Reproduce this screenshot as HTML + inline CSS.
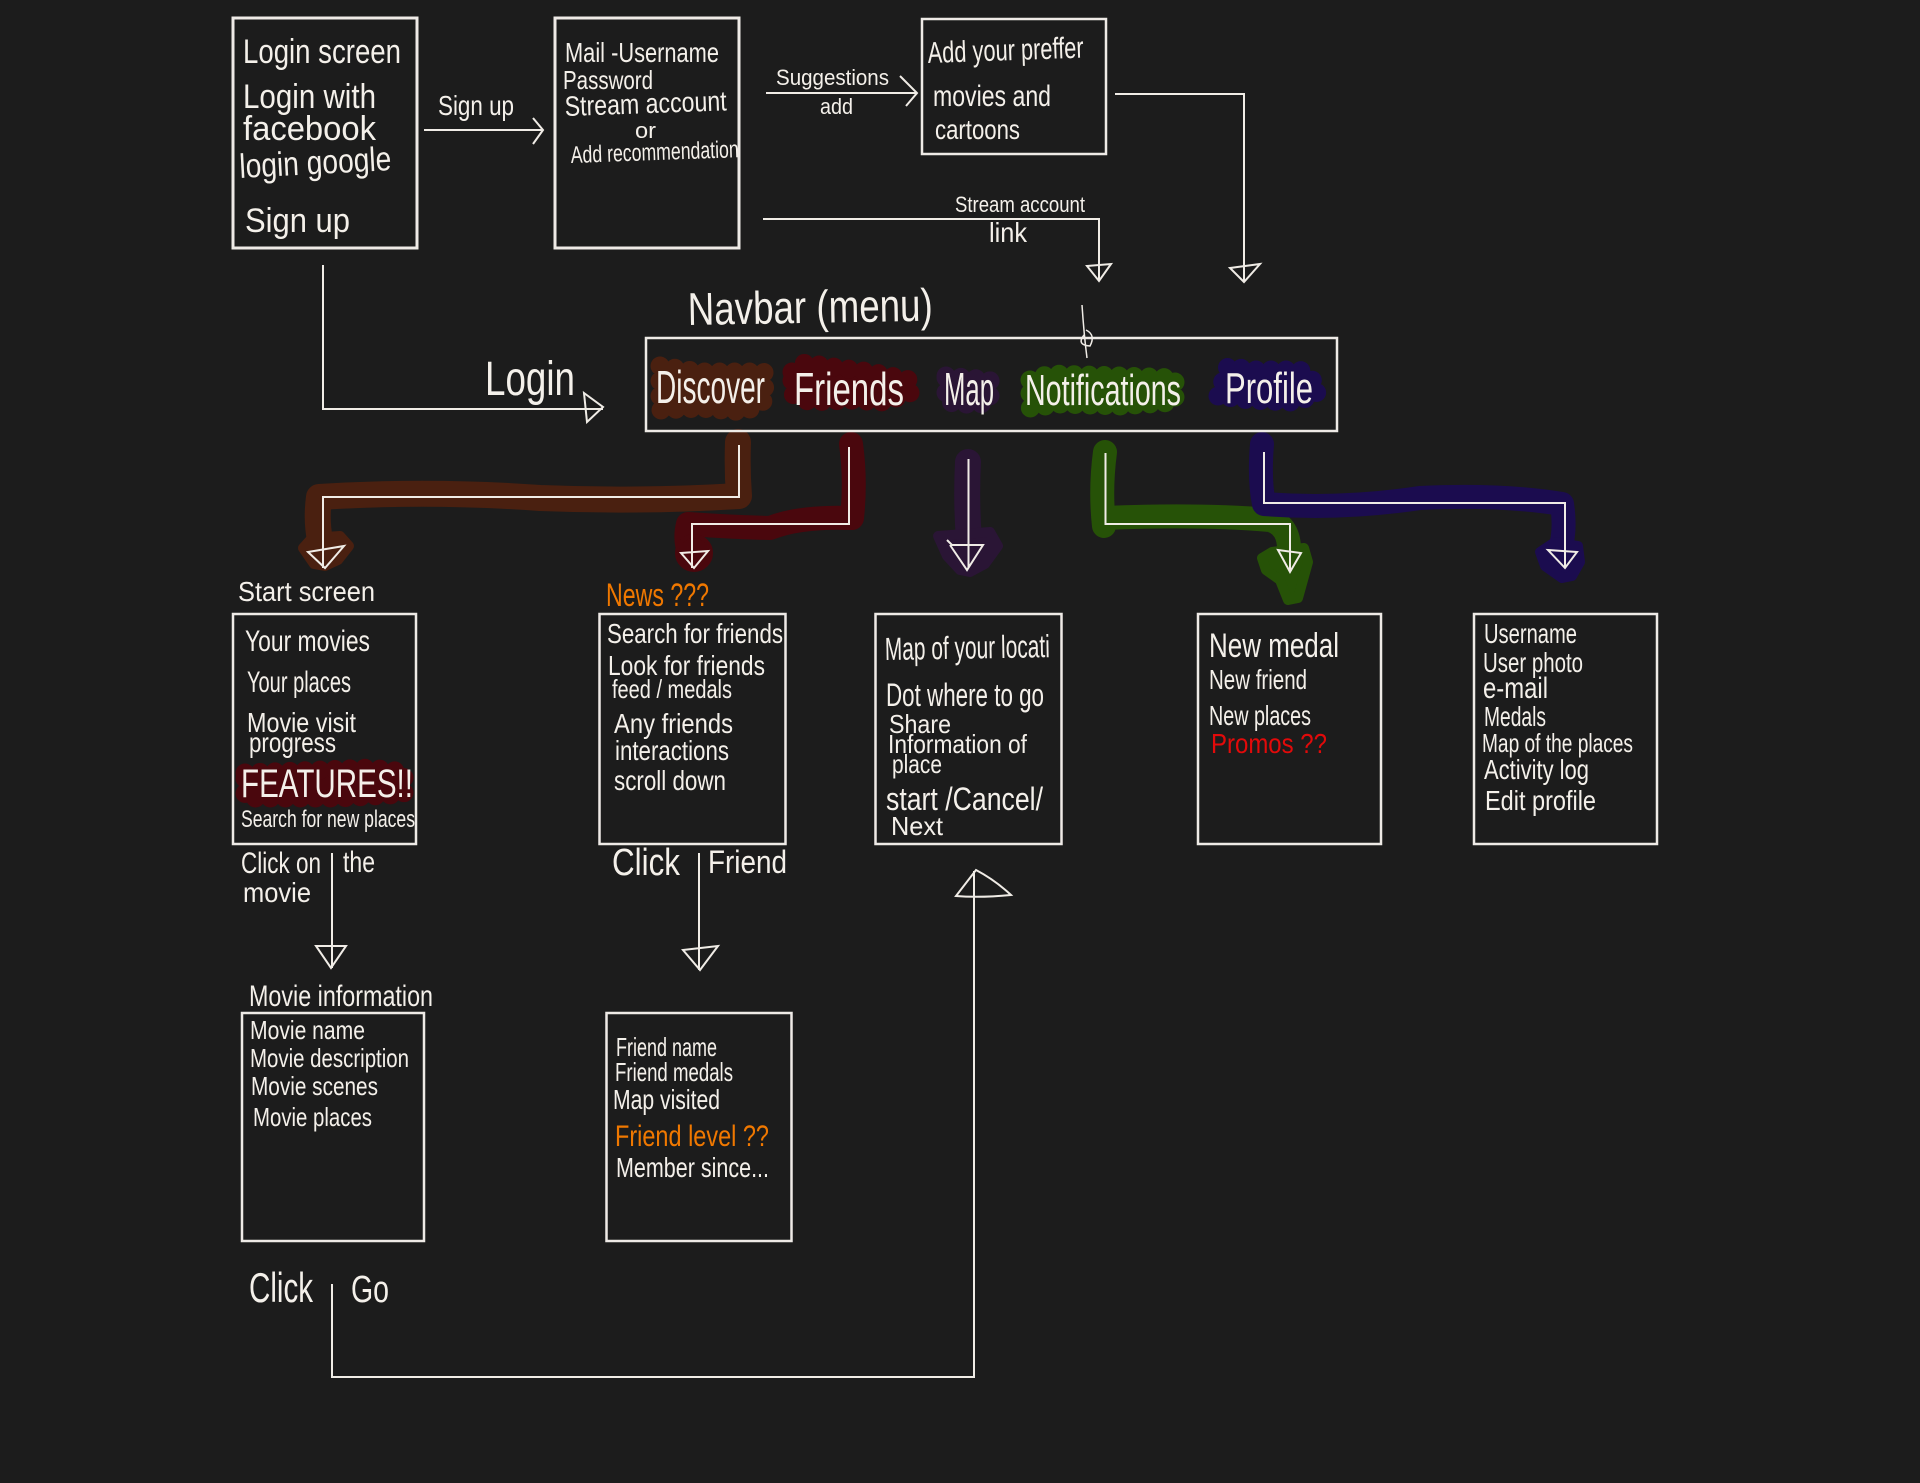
<!DOCTYPE html>
<html><head><meta charset="utf-8"><title>Flow sketch</title>
<style>
html,body{margin:0;padding:0;background:#1c1c1c;width:1920px;height:1483px;overflow:hidden}
svg{display:block}
text{font-family:"Liberation Sans",sans-serif;fill:#f4f0ea}
.l{fill:none;stroke:#f0ece6;stroke-width:2;stroke-linejoin:miter}
.b{fill:none;stroke:#eeeae6;stroke-width:3}
.o{fill:#f07800}.r{fill:#e20a0a}
.s{stroke-width:19;stroke-dasharray:0 15}
</style></head><body>
<svg width="1920" height="1483" viewBox="0 0 1920 1483" xmlns="http://www.w3.org/2000/svg">
<rect width="1920" height="1483" fill="#1c1c1c"/>

<!-- colour highlights -->
<g fill="none" stroke-linecap="round" stroke-linejoin="round">
 <g stroke="#4a2010" fill="#4a2010">
  <path d="M738 442 Q737 470 739 496 Q640 502 540 498 Q430 490 319 497 Q316 520 320 540" stroke-width="26" fill="none"/>
  <path d="M303 548 L312 538 L340 536 L349 546 L338 560 L325 566 L314 564Z" stroke-width="10"/>
  <path class="s" d="M660 366 L700 372 L764 372 L765 400 L745 412 L700 408 L660 410Z"/>
 </g>
 <g stroke="#4a070d" fill="#4a070d">
  <path d="M851 444 Q856 480 852 518 Q800 516 770 528 Q730 527 688 524 Q684 540 690 555" stroke-width="24" fill="none"/>
  <circle cx="694" cy="553" r="17" stroke-width="4"/>
  <path class="s" d="M792 372 L805 363 L840 368 L870 372 L910 380 L910 393 L885 402 L850 400 L810 402 L792 394Z"/>
  <path class="s" d="M245 773 L300 771 L370 768 L404 772 L404 794 L340 798 L290 798 L245 798Z"/>
 </g>
 <g stroke="#2a1535" fill="#2a1535">
  <path d="M968 462 Q966 500 969 540" stroke-width="26" fill="none"/>
  <path d="M938 536 L990 532 L998 546 L985 564 L970 572 L960 570 L947 556Z" stroke-width="10"/>
  <path class="s" d="M946 376 L990 380 L990 402 L975 405 L946 402Z"/>
 </g>
 <g stroke="#265207" fill="#265207">
  <path d="M1105 452 Q1100 490 1104 526 M1104 518 Q1200 514 1270 520 Q1290 526 1289 552" stroke-width="24" fill="none"/>
  <path d="M1262 558 L1272 552 L1304 548 L1308 562 L1298 598 L1288 600 L1280 580 L1266 570Z" stroke-width="10"/>
  <path class="s" d="M1030 380 L1050 374 L1120 376 L1175 378 L1175 402 L1120 406 L1060 404 L1030 408Z"/>
 </g>
 <g stroke="#1b0c4f" fill="#1b0c4f">
  <path d="M1262 444 Q1259 480 1264 504 Q1340 510 1420 498 Q1500 494 1562 504 Q1566 530 1560 550" stroke-width="24" fill="none"/>
  <path d="M1540 552 L1555 542 L1578 546 L1580 562 L1572 576 L1562 578 L1545 566Z" stroke-width="10"/>
  <path class="s" d="M1218 396 L1228 366 L1250 370 L1300 370 L1318 385 L1316 396 L1290 402 L1250 400Z"/>
 </g>
</g>

<!-- boxes -->
<g class="b">
 <rect x="233" y="18" width="184" height="230"/>
 <rect x="555" y="18" width="184" height="230"/>
 <rect x="922" y="19" width="184" height="135" stroke-width="2.5"/>
 <rect x="646" y="338" width="691" height="93" stroke-width="2.5"/>
 <rect x="233" y="614" width="183" height="230" stroke-width="2.5"/>
 <rect x="599.500" y="614" width="186" height="230" stroke-width="2.5"/>
 <rect x="875.500" y="614" width="186" height="230" stroke-width="2.5"/>
 <rect x="1198" y="614" width="183" height="230" stroke-width="2.5"/>
 <rect x="1474" y="614" width="183" height="230" stroke-width="2.5"/>
 <rect x="242" y="1013" width="182" height="228" stroke-width="2.5"/>
 <rect x="606.500" y="1013" width="185" height="228" stroke-width="2.5"/>
</g>

<!-- connectors -->
<g class="l">
 <path d="M424 130H543M533 118L543 130L533 144"/>
 <path d="M766 93H917M900 76L917 93L906 106"/>
 <path d="M1115 94H1244V282M1230 268L1260 264L1244 282Z"/>
 <path d="M763 219H1099V281M1087 266L1111 264L1099 281Z"/>
 <path d="M323 265V409H603M584 393L603 407L587 422Z"/>
 <path d="M1082 305Q1084 335 1087 358M1084 335Q1076 345 1090 346Q1096 335 1086 330" stroke-width="1.500"/>
 <path d="M739 445V497H323V568M308 552L344 546L325 568Z"/>
 <path d="M849 447V524H692V568M681 553L708 551L694 568Z"/>
 <path d="M968.500 459V568M947 540L952 545H983L967 570L950 545"/>
 <path d="M1105.500 453V524H1290V572M1278 550L1301 553L1290 572Z"/>
 <path d="M1264 452V503H1565V568M1548 550L1577 552L1565 568Z"/>
 <path d="M332 853V968M316 946H346L331 968Z"/>
 <path d="M699 853V970M683 950L718 946L700 970Z"/>
 <path d="M332 1284V1377H974V871M956 896L976 870Q995 880 1011 895Q980 898 956 896Z"/>
</g>

<!-- text -->
<g>
<text x="243" y="63" font-size="34" textLength="158" lengthAdjust="spacingAndGlyphs">Login screen</text>
<text x="243" y="108" font-size="34" textLength="133" lengthAdjust="spacingAndGlyphs">Login with</text>
<text x="243" y="140" font-size="34" textLength="133" lengthAdjust="spacingAndGlyphs">facebook</text>
<text x="240" y="178" font-size="34" textLength="152" lengthAdjust="spacingAndGlyphs" transform="rotate(-3 240 178)">login google</text>
<text x="245" y="232" font-size="34" textLength="105" lengthAdjust="spacingAndGlyphs">Sign up</text>
<text x="438" y="115" font-size="28" textLength="76" lengthAdjust="spacingAndGlyphs">Sign up</text>
<text x="565" y="62" font-size="28" textLength="154" lengthAdjust="spacingAndGlyphs">Mail -Username</text>
<text x="563" y="89" font-size="26" textLength="90" lengthAdjust="spacingAndGlyphs">Password</text>
<text x="565" y="116" font-size="28" textLength="162" lengthAdjust="spacingAndGlyphs" transform="rotate(-2 565 116)">Stream account</text>
<text x="635" y="138" font-size="22" textLength="21" lengthAdjust="spacingAndGlyphs">or</text>
<text x="571" y="163" font-size="24" textLength="168" lengthAdjust="spacingAndGlyphs" transform="rotate(-2 571 163)">Add recommendation</text>
<text x="776" y="85" font-size="22" textLength="113" lengthAdjust="spacingAndGlyphs">Suggestions</text>
<text x="820" y="114" font-size="22" textLength="33" lengthAdjust="spacingAndGlyphs">add</text>
<text x="928" y="63" font-size="30" textLength="156" lengthAdjust="spacingAndGlyphs" transform="rotate(-2 928 63)">Add your preffer</text>
<text x="933" y="106" font-size="30" textLength="118" lengthAdjust="spacingAndGlyphs">movies and</text>
<text x="935" y="139" font-size="28" textLength="85" lengthAdjust="spacingAndGlyphs">cartoons</text>
<text x="955" y="212" font-size="22" textLength="130" lengthAdjust="spacingAndGlyphs">Stream account</text>
<text x="989" y="242" font-size="28" textLength="38" lengthAdjust="spacingAndGlyphs">link</text>
<text x="688" y="325" font-size="46" textLength="245" lengthAdjust="spacingAndGlyphs" transform="rotate(-1 688 325)">Navbar (menu)</text>
<text x="485" y="395" font-size="48" textLength="90" lengthAdjust="spacingAndGlyphs">Login</text>
<text x="656" y="403" font-size="46" textLength="109" lengthAdjust="spacingAndGlyphs">Discover</text>
<text x="794" y="405" font-size="46" textLength="110" lengthAdjust="spacingAndGlyphs">Friends</text>
<text x="944" y="405" font-size="46" textLength="50" lengthAdjust="spacingAndGlyphs">Map</text>
<text x="1025" y="405" font-size="44" textLength="156" lengthAdjust="spacingAndGlyphs">Notifications</text>
<text x="1225" y="403" font-size="44" textLength="88" lengthAdjust="spacingAndGlyphs">Profile</text>

<text x="238" y="601" font-size="28" textLength="137" lengthAdjust="spacingAndGlyphs">Start screen</text>
<text class="o" x="606" y="606" font-size="32" textLength="103" lengthAdjust="spacingAndGlyphs">News ???</text>
<text x="245" y="651" font-size="30" textLength="125" lengthAdjust="spacingAndGlyphs">Your movies</text>
<text x="247" y="692" font-size="30" textLength="104" lengthAdjust="spacingAndGlyphs">Your places</text>
<text x="247" y="732" font-size="28" textLength="109" lengthAdjust="spacingAndGlyphs">Movie visit</text>
<text x="249" y="752" font-size="28" textLength="87" lengthAdjust="spacingAndGlyphs">progress</text>
<text x="241" y="797" font-size="40" textLength="172" lengthAdjust="spacingAndGlyphs">FEATURES!!</text>
<text x="241" y="827" font-size="24" textLength="174" lengthAdjust="spacingAndGlyphs">Search for new places</text>
<text x="241" y="873" font-size="30" textLength="80" lengthAdjust="spacingAndGlyphs">Click on</text>
<text x="343" y="872" font-size="30" textLength="32" lengthAdjust="spacingAndGlyphs">the</text>
<text x="243" y="902" font-size="28" textLength="68" lengthAdjust="spacingAndGlyphs">movie</text>

<text x="607" y="643" font-size="28" textLength="176" lengthAdjust="spacingAndGlyphs">Search for friends</text>
<text x="608" y="675" font-size="28" textLength="157" lengthAdjust="spacingAndGlyphs">Look for friends</text>
<text x="612" y="698" font-size="26" textLength="120" lengthAdjust="spacingAndGlyphs">feed / medals</text>
<text x="614" y="733" font-size="28" textLength="119" lengthAdjust="spacingAndGlyphs">Any friends</text>
<text x="615" y="760" font-size="28" textLength="114" lengthAdjust="spacingAndGlyphs">interactions</text>
<text x="614" y="790" font-size="28" textLength="112" lengthAdjust="spacingAndGlyphs">scroll down</text>
<text x="612" y="875" font-size="38" textLength="68" lengthAdjust="spacingAndGlyphs">Click</text>
<text x="708" y="873" font-size="32" textLength="79" lengthAdjust="spacingAndGlyphs">Friend</text>

<text x="885" y="660" font-size="32" textLength="165" lengthAdjust="spacingAndGlyphs" transform="rotate(-1 885 660)">Map of your locati</text>
<text x="886" y="706" font-size="32" textLength="158" lengthAdjust="spacingAndGlyphs">Dot where to go</text>
<text x="889" y="733" font-size="26" textLength="62" lengthAdjust="spacingAndGlyphs">Share</text>
<text x="888" y="753" font-size="26" textLength="139" lengthAdjust="spacingAndGlyphs">Information of</text>
<text x="892" y="773" font-size="26" textLength="50" lengthAdjust="spacingAndGlyphs">place</text>
<text x="886" y="810" font-size="32" textLength="157" lengthAdjust="spacingAndGlyphs">start /Cancel/</text>
<text x="891" y="835" font-size="26" textLength="52" lengthAdjust="spacingAndGlyphs">Next</text>

<text x="1209" y="657" font-size="34" textLength="130" lengthAdjust="spacingAndGlyphs">New medal</text>
<text x="1209" y="689" font-size="28" textLength="98" lengthAdjust="spacingAndGlyphs">New friend</text>
<text x="1209" y="725" font-size="28" textLength="102" lengthAdjust="spacingAndGlyphs">New places</text>
<text class="r" x="1211" y="753" font-size="28" textLength="116" lengthAdjust="spacingAndGlyphs">Promos ??</text>

<text x="1484" y="643" font-size="28" textLength="93" lengthAdjust="spacingAndGlyphs">Username</text>
<text x="1483" y="672" font-size="28" textLength="100" lengthAdjust="spacingAndGlyphs">User photo</text>
<text x="1483" y="698" font-size="30" textLength="65" lengthAdjust="spacingAndGlyphs">e-mail</text>
<text x="1484" y="726" font-size="28" textLength="62" lengthAdjust="spacingAndGlyphs">Medals</text>
<text x="1482" y="752" font-size="26" textLength="151" lengthAdjust="spacingAndGlyphs">Map of the places</text>
<text x="1484" y="779" font-size="28" textLength="105" lengthAdjust="spacingAndGlyphs">Activity log</text>
<text x="1485" y="810" font-size="28" textLength="111" lengthAdjust="spacingAndGlyphs">Edit profile</text>

<text x="249" y="1006" font-size="30" textLength="184" lengthAdjust="spacingAndGlyphs">Movie information</text>
<text x="250" y="1039" font-size="26" textLength="115" lengthAdjust="spacingAndGlyphs">Movie name</text>
<text x="250" y="1067" font-size="26" textLength="159" lengthAdjust="spacingAndGlyphs">Movie description</text>
<text x="251" y="1095" font-size="26" textLength="127" lengthAdjust="spacingAndGlyphs">Movie scenes</text>
<text x="253" y="1126" font-size="26" textLength="119" lengthAdjust="spacingAndGlyphs">Movie places</text>

<text x="616" y="1056" font-size="26" textLength="101" lengthAdjust="spacingAndGlyphs">Friend name</text>
<text x="615" y="1081" font-size="26" textLength="118" lengthAdjust="spacingAndGlyphs">Friend medals</text>
<text x="613" y="1109" font-size="28" textLength="107" lengthAdjust="spacingAndGlyphs">Map visited</text>
<text class="o" x="615" y="1146" font-size="30" textLength="154" lengthAdjust="spacingAndGlyphs">Friend level ??</text>
<text x="616" y="1177" font-size="28" textLength="153" lengthAdjust="spacingAndGlyphs">Member since...</text>

<text x="249" y="1302" font-size="42" textLength="64" lengthAdjust="spacingAndGlyphs">Click</text>
<text x="351" y="1302" font-size="38" textLength="38" lengthAdjust="spacingAndGlyphs">Go</text>
</g>
</svg>
</body></html>
